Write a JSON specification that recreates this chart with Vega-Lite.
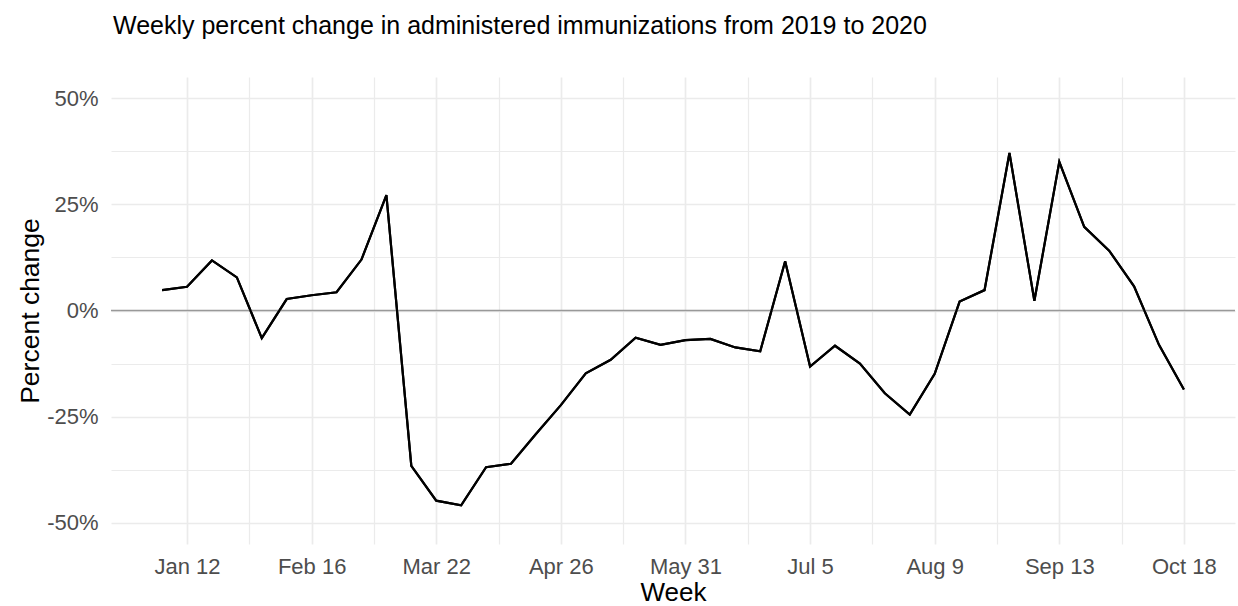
{
  "$schema": "https://vega.github.io/schema/vega-lite/v6.json",
  "width": 1124,
  "height": 467,
  "autosize": "none",
  "padding": {"left": 111, "top": 77, "right": 3, "bottom": 62},
  "background": "white",
  "config": {
    "view": {"stroke": null},
    "font": "Liberation Sans"
  },
  "title": {
    "text": "Weekly percent change in administered immunizations from 2019 to 2020",
    "anchor": "start",
    "frame": "group",
    "fontSize": 25,
    "font": "Liberation Sans",
    "fontWeight": "normal",
    "color": "#000000",
    "baseline": "alphabetic",
    "offset": 18,
    "dx": 2
  },
  "data": {
    "values": [
      {"week": "2020-01-05", "pct": 0.048},
      {"week": "2020-01-12", "pct": 0.056},
      {"week": "2020-01-19", "pct": 0.118},
      {"week": "2020-01-26", "pct": 0.078},
      {"week": "2020-02-02", "pct": -0.065},
      {"week": "2020-02-09", "pct": 0.027},
      {"week": "2020-02-16", "pct": 0.036},
      {"week": "2020-02-23", "pct": 0.043},
      {"week": "2020-03-01", "pct": 0.120},
      {"week": "2020-03-08", "pct": 0.272},
      {"week": "2020-03-15", "pct": -0.366},
      {"week": "2020-03-22", "pct": -0.448},
      {"week": "2020-03-29", "pct": -0.459},
      {"week": "2020-04-05", "pct": -0.369},
      {"week": "2020-04-12", "pct": -0.361},
      {"week": "2020-04-19", "pct": -0.291},
      {"week": "2020-04-26", "pct": -0.223},
      {"week": "2020-05-03", "pct": -0.148},
      {"week": "2020-05-10", "pct": -0.116},
      {"week": "2020-05-17", "pct": -0.064},
      {"week": "2020-05-24", "pct": -0.081},
      {"week": "2020-05-31", "pct": -0.070},
      {"week": "2020-06-07", "pct": -0.067},
      {"week": "2020-06-14", "pct": -0.087},
      {"week": "2020-06-21", "pct": -0.096},
      {"week": "2020-06-28", "pct": 0.116},
      {"week": "2020-07-05", "pct": -0.132},
      {"week": "2020-07-12", "pct": -0.083},
      {"week": "2020-07-19", "pct": -0.125},
      {"week": "2020-07-26", "pct": -0.195},
      {"week": "2020-08-02", "pct": -0.245},
      {"week": "2020-08-09", "pct": -0.149},
      {"week": "2020-08-16", "pct": 0.021},
      {"week": "2020-08-23", "pct": 0.048},
      {"week": "2020-08-30", "pct": 0.371},
      {"week": "2020-09-06", "pct": 0.023},
      {"week": "2020-09-13", "pct": 0.350},
      {"week": "2020-09-20", "pct": 0.197},
      {"week": "2020-09-27", "pct": 0.141},
      {"week": "2020-10-04", "pct": 0.057},
      {"week": "2020-10-11", "pct": -0.081},
      {"week": "2020-10-18", "pct": -0.186}
    ]
  },
  "layer": [
    {
      "mark": {"type": "line", "color": "#000000", "strokeWidth": 2.2, "interpolate": "linear"},
      "encoding": {
        "x": {
          "field": "week",
          "type": "temporal",
          "scale": {"type": "utc", "domain": [1576942560000, 1604219040000], "nice": false},
          "axis": {
            "title": "Week",
            "titleFontSize": 26,
            "titleFont": "Liberation Sans",
            "titleFontWeight": "normal",
            "titleColor": "#000000",
            "titlePadding": 2,
            "values": [1578787200000, 1580299200000, 1581811200000, 1583323200000, 1584835200000, 1586347200000, 1587859200000, 1589371200000, 1590883200000, 1592395200000, 1593907200000, 1595419200000, 1596931200000, 1598443200000, 1599955200000, 1601467200000, 1602979200000],
            "labelExpr": "utchours(datum.value) == 12 ? '' : utcFormat(datum.value, '%b %-d')",
            "labelFontSize": 22,
            "labelFont": "Liberation Sans",
            "labelColor": "#4D4D4D",
            "labelPadding": 12,
            "labelOverlap": false,
            "labelFlush": false,
            "domain": false,
            "ticks": false,
            "grid": true,
            "gridColor": "#EBEBEB",
            "gridWidth": {"condition": {"test": "utchours(datum.value) == 12", "value": 1.2}, "value": 1.7}
          }
        },
        "y": {
          "field": "pct",
          "type": "quantitative",
          "scale": {"domain": [-0.55, 0.55], "nice": false, "zero": false},
          "axis": {
            "title": "Percent change",
            "titleFontSize": 26.5,
            "titleFont": "Liberation Sans",
            "titleFontWeight": "normal",
            "titleColor": "#000000",
            "titlePadding": 2,
            "values": [-0.5, -0.375, -0.25, -0.125, 0, 0.125, 0.25, 0.375, 0.5],
            "format": ".0%",
            "labelExpr": "abs(datum.value * 4 - round(datum.value * 4)) > 0.1 ? '' : replace(datum.label, '\u2212', '-')",
            "labelFontSize": 22,
            "labelFont": "Liberation Sans",
            "labelColor": "#4D4D4D",
            "labelPadding": 13,
            "labelOverlap": false,
            "labelFlush": false,
            "domain": false,
            "ticks": false,
            "grid": true,
            "gridColor": "#EBEBEB",
            "gridWidth": {"condition": {"test": "abs(datum.value * 4 - round(datum.value * 4)) > 0.1", "value": 1.2}, "value": 1.7}
          }
        }
      }
    },
    {
      "data": {"values": [{"zero": 0}]},
      "mark": {"type": "rule", "color": "#999999", "strokeWidth": 1.6},
      "encoding": {
        "y": {"field": "zero", "type": "quantitative"}
      }
    },
    {
      "mark": {"type": "line", "color": "#000000", "strokeWidth": 2.2, "interpolate": "linear"},
      "encoding": {
        "x": {"field": "week", "type": "temporal"},
        "y": {"field": "pct", "type": "quantitative"}
      }
    }
  ]
}
